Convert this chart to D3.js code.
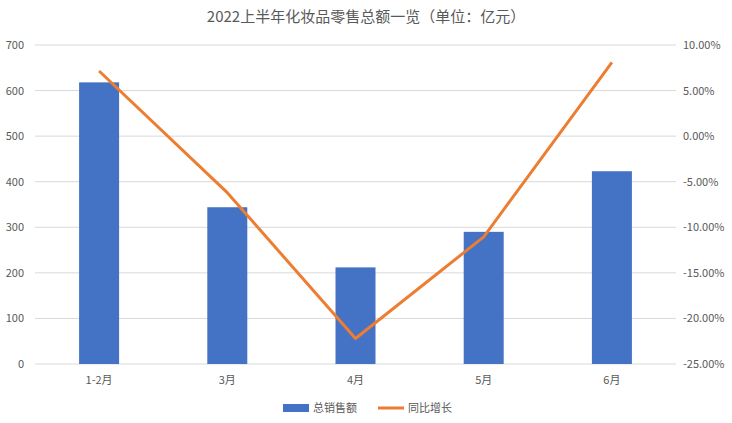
<!DOCTYPE html>
<html><head><meta charset="utf-8">
<script src="https://cdn.jsdelivr.net/npm/d3@7"></script>
<style>body{margin:0;background:#fff;font-family:"Noto Sans CJK SC","Noto Sans",sans-serif}</style>
</head><body><svg id="c" width="732" height="423"></svg>
<script>
const categories=["1-2月","3月","4月","5月","6月"];
const sales=[618,344,212,290,423];
const growth=[7.15,-6.2,-22.2,-11.05,8.1];
const leftTicks=[0,100,200,300,400,500,600,700];
const rightTicks=[-25,-20,-15,-10,-5,0,5,10];
const svg=d3.select("#c");
const L=35,R=676,T=45,B=364;
const x=d3.scaleBand().domain(categories).range([L,R]);
const y=d3.scaleLinear().domain([0,700]).range([B,T]);
const y2=d3.scaleLinear().domain([-25,10]).range([B,T]);
const f="#595959";
svg.append("text").attr("x",366).attr("y",22).attr("text-anchor","middle").attr("font-size",15).attr("fill",f).text("2022上半年化妆品零售总额一览（单位：亿元）");
const g=svg.append("g");
g.selectAll("line.g").data(leftTicks).join("line").attr("x1",L).attr("x2",R).attr("y1",d=>y(d)).attr("y2",d=>y(d)).attr("stroke","#d9d9d9");
g.selectAll("text.l").data(leftTicks).join("text").attr("x",24).attr("y",d=>y(d)+4).attr("text-anchor","end").attr("font-size",11).attr("fill",f).text(d=>d);
g.selectAll("text.r").data(rightTicks).join("text").attr("x",683).attr("y",d=>y2(d)+4).attr("font-size",11).attr("fill",f).text(d=>d.toFixed(2)+"%");
g.selectAll("rect").data(sales).join("rect").attr("x",(d,i)=>x(categories[i])+x.bandwidth()/2-20).attr("width",40).attr("y",d=>y(d)).attr("height",d=>B-y(d)).attr("fill","#4472c4");
g.selectAll("text.c").data(categories).join("text").attr("x",d=>x(d)+x.bandwidth()/2).attr("y",384).attr("text-anchor","middle").attr("font-size",11).attr("fill",f).text(d=>d);
const line=d3.line().x((d,i)=>x(categories[i])+x.bandwidth()/2).y(d=>y2(d));
g.append("path").attr("d",line(growth)).attr("fill","none").attr("stroke","#ed7d31").attr("stroke-width",3).attr("stroke-linejoin","round");
const lg=svg.append("g").attr("font-size",11).attr("fill",f);
lg.append("rect").attr("x",283).attr("y",404).attr("width",26).attr("height",8).attr("fill","#4472c4");
lg.append("text").attr("x",313).attr("y",412).text("总销售额");
lg.append("line").attr("x1",378).attr("x2",404).attr("y1",408).attr("y2",408).attr("stroke","#ed7d31").attr("stroke-width",3);
lg.append("text").attr("x",408).attr("y",412).text("同比增长");
</script></body></html>
